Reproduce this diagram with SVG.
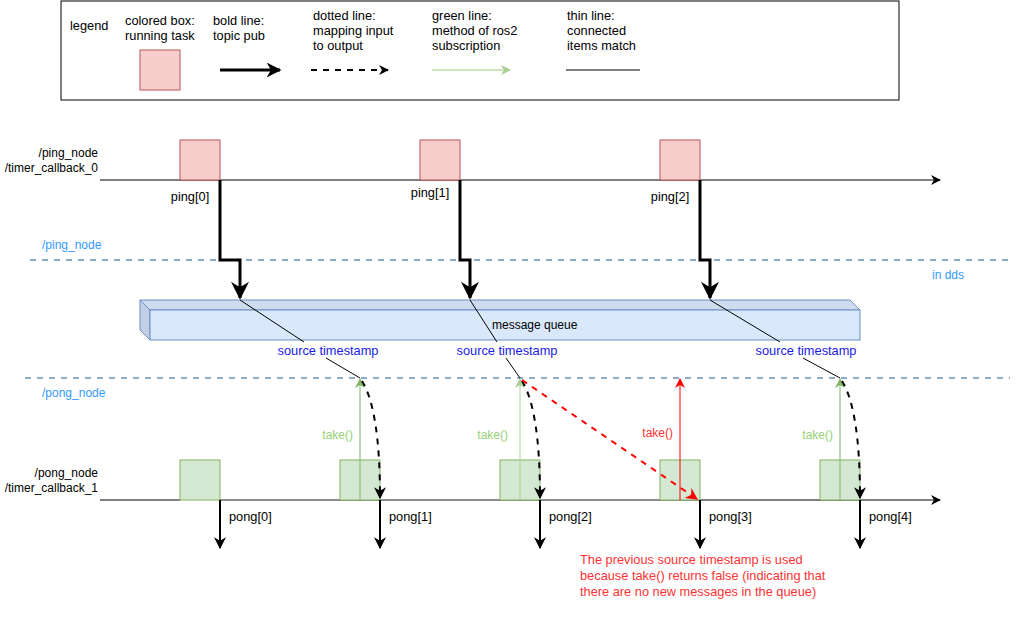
<svg xmlns="http://www.w3.org/2000/svg" width="1031" height="626" viewBox="0 0 1031 626">
<defs>
<style>
text{font-family:"Liberation Sans",Arial,sans-serif;font-size:12px;fill:#000}
.big{font-size:12.8px}
.r{text-anchor:end}
.m{text-anchor:middle}
.blue{fill:#3399ff}
.ts{fill:#1a1ae6;text-anchor:middle;font-size:12.8px}
.gt{fill:#97d077;text-anchor:end}
.red{fill:#ff3333}
.ping{fill:#f8cecc;stroke:#b85450;stroke-width:1}
.pong{fill:#d5e8d4;stroke:#82b366;stroke-width:1}
.bold{stroke:#000;stroke-width:3;fill:none}
.pub{stroke:#000;stroke-width:2;fill:none}
.sep{stroke:#6c8ebf;stroke-width:1.5;stroke-dasharray:6 6;fill:none}
.thin{stroke:#000;stroke-width:1;fill:none}
.map{stroke:#000;stroke-width:2;stroke-dasharray:6 6;fill:none}
</style>
<marker id="ab" viewBox="0 0 10 10" refX="9" refY="5" markerWidth="5" markerHeight="5" markerUnits="strokeWidth" orient="auto"><path d="M0,0 L10,5 L0,10 L3,5 Z" fill="#000"/></marker>
<marker id="ab2" viewBox="0 0 10 10" refX="9" refY="5" markerWidth="6" markerHeight="6" markerUnits="strokeWidth" orient="auto"><path d="M0,0 L10,5 L0,10 L3,5 Z" fill="#000"/></marker>
<marker id="at" viewBox="0 0 10 10" refX="9" refY="5" markerWidth="10" markerHeight="10" markerUnits="strokeWidth" orient="auto"><path d="M0,0 L10,5 L0,10 L3,5 Z" fill="#000"/></marker>
<marker id="ag" viewBox="0 0 10 10" refX="9" refY="5" markerWidth="10" markerHeight="10" markerUnits="strokeWidth" orient="auto"><path d="M0,0 L10,5 L0,10 L3,5 Z" fill="#82b366"/></marker>
<marker id="agl" viewBox="0 0 10 10" refX="9" refY="5" markerWidth="10" markerHeight="10" markerUnits="strokeWidth" orient="auto"><path d="M0,0 L10,5 L0,10 L3,5 Z" fill="#a9cf94"/></marker>
<marker id="ar" viewBox="0 0 10 10" refX="9" refY="5" markerWidth="10" markerHeight="10" markerUnits="strokeWidth" orient="auto"><path d="M0,0 L10,5 L0,10 L3,5 Z" fill="#ff0000"/></marker>
<marker id="ar2" viewBox="0 0 10 10" refX="9" refY="5" markerWidth="6" markerHeight="6" markerUnits="strokeWidth" orient="auto"><path d="M0,0 L10,5 L0,10 L3,5 Z" fill="#ff0000"/></marker>
</defs>
<rect width="1031" height="626" fill="#fff"/>

<g id="legend">
<rect x="61" y="1" width="838" height="99" fill="#fff" stroke="#000" stroke-width="1"/>
<text class="big" x="70" y="30">legend</text>
<text class="big" x="125" y="25">colored box:</text>
<text class="big" x="125" y="40">running task</text>
<rect class="ping" x="140" y="50" width="40" height="40"/>
<text class="big" x="213" y="25">bold line:</text>
<text class="big" x="213" y="40">topic pub</text>
<line x1="220" y1="70" x2="280" y2="70" class="bold" marker-end="url(#ab)"/>
<text class="big" x="313" y="20">dotted line:</text>
<text class="big" x="313" y="35">mapping input</text>
<text class="big" x="313" y="50">to output</text>
<line x1="311" y1="70" x2="388" y2="70" class="map" marker-end="url(#ab)" stroke-dasharray="6 5"/>
<text class="big" x="432" y="20">green line:</text>
<text class="big" x="432" y="35">method of ros2</text>
<text class="big" x="432" y="50">subscription</text>
<line x1="432" y1="70" x2="510" y2="70" stroke="#97d077" stroke-width="1" marker-end="url(#agl)"/>
<text class="big" x="567" y="20">thin line:</text>
<text class="big" x="567" y="35">connected</text>
<text class="big" x="567" y="50">items match</text>
<line x1="566" y1="70" x2="640" y2="70" stroke="#808080" stroke-width="2"/>
</g>

<g id="labels">
<text class="r" x="98" y="157">/ping_node</text>
<text class="r" x="98" y="172">/timer_callback_0</text>
<text class="r" x="98" y="477">/pong_node</text>
<text class="r" x="98" y="492">/timer_callback_1</text>
<text class="blue" x="42" y="249">/ping_node</text>
<text class="blue" x="932" y="279">in dds</text>
<text class="blue" x="42" y="397">/pong_node</text>
</g>

<g id="separators">
<line class="sep" x1="30" y1="260" x2="1010" y2="260"/>
<line class="sep" x1="25" y1="378" x2="1010" y2="378"/>
</g>

<g id="ping-timeline">
<line x1="100" y1="180" x2="940" y2="180" stroke="#000" stroke-width="1" marker-end="url(#at)"/>
</g>

<g id="ping0"><rect class="ping" x="180" y="140" width="40" height="40"/><text class="m big" x="190" y="201">ping[0]</text></g>
<g id="ping1"><rect class="ping" x="420" y="140" width="40" height="40"/><text class="m big" x="430" y="197">ping[1]</text></g>
<g id="ping2"><rect class="ping" x="660" y="140" width="40" height="40"/><text class="m big" x="670" y="201">ping[2]</text></g>

<g id="queue">
<path d="M140,300 L850,300 L860,310 L150,310 Z" fill="#cfdcf0" stroke="#6c8ebf" stroke-width="1"/>
<path d="M140,300 L150,310 L150,340 L140,330 Z" fill="#c2cfe6" stroke="#6c8ebf" stroke-width="1"/>
<rect x="150" y="310" width="710" height="30" fill="#dae8fc" stroke="#6c8ebf" stroke-width="1"/>
<text x="492" y="329">message queue</text>
</g>

<g id="pong-timeline">
<line x1="100" y1="500" x2="180" y2="500" stroke="#000" stroke-width="1"/>
<line x1="220" y1="500" x2="700" y2="500" stroke="#666" stroke-width="1.5"/>
<line x1="700" y1="500" x2="940" y2="500" stroke="#000" stroke-width="1" marker-end="url(#at)"/>
</g>

<g id="pong0"><rect class="pong" x="180" y="460" width="40" height="40"/><text class="big" x="229" y="521">pong[0]</text></g>
<g id="pong1"><rect class="pong" x="340" y="460" width="40" height="40"/><text class="big" x="389" y="521">pong[1]</text></g>
<g id="pong2"><rect class="pong" x="500" y="460" width="40" height="40"/><text class="big" x="549" y="521">pong[2]</text></g>
<g id="pong3"><rect class="pong" x="660" y="460" width="40" height="40"/><text class="big" x="709" y="521">pong[3]</text></g>
<g id="pong4"><rect class="pong" x="820" y="460" width="40" height="40"/><text class="big" x="869" y="521">pong[4]</text></g>

<g id="timestamps">
<text class="ts" x="328" y="355">source timestamp</text>
<text class="ts" x="507" y="355">source timestamp</text>
<text class="ts" x="806" y="355">source timestamp</text>
</g>

<g id="connectors">
<path class="bold" d="M220,180 V260 H240 V298" marker-end="url(#ab2)"/>
<path class="bold" d="M460,180 V260 H470 V298" marker-end="url(#ab2)"/>
<path class="bold" d="M700,180 V260 H710 V298" marker-end="url(#ab2)"/>

<line class="thin" x1="240" y1="300" x2="304" y2="342"/>
<line class="thin" x1="326" y1="358" x2="360" y2="378"/>
<line class="thin" x1="470" y1="300" x2="497" y2="342"/>
<line class="thin" x1="506" y1="358" x2="520" y2="378"/>
<line class="thin" x1="710" y1="300" x2="780" y2="342"/>
<line class="thin" x1="803" y1="358" x2="840" y2="378"/>

<line x1="360" y1="500" x2="360" y2="379" stroke="#82b366" stroke-width="1" marker-end="url(#ag)"/>
<line x1="520" y1="500" x2="520" y2="379" stroke="#a9cf94" stroke-width="1" marker-end="url(#agl)"/>
<line x1="840" y1="500" x2="840" y2="379" stroke="#82b366" stroke-width="1" marker-end="url(#ag)"/>
<line x1="680" y1="500" x2="680" y2="379" stroke="#ff0000" stroke-width="1" marker-end="url(#ar)"/>

<path class="map" d="M362,381 Q380,410 380,498" marker-end="url(#ab2)"/>
<path class="map" d="M522,381 Q540,410 540,498" marker-end="url(#ab2)"/>
<path class="map" d="M842,381 Q860,410 860,498" marker-end="url(#ab2)"/>
<line x1="522" y1="380" x2="697" y2="499" stroke="#ff0000" stroke-width="2" stroke-dasharray="6 6" marker-end="url(#ar2)"/>

<line class="pub" x1="220" y1="500" x2="220" y2="548" marker-end="url(#ab2)"/>
<line class="pub" x1="380" y1="500" x2="380" y2="548" marker-end="url(#ab2)"/>
<line class="pub" x1="540" y1="500" x2="540" y2="548" marker-end="url(#ab2)"/>
<line class="pub" x1="700" y1="500" x2="700" y2="548" marker-end="url(#ab2)"/>
<line class="pub" x1="860" y1="500" x2="860" y2="548" marker-end="url(#ab2)"/>
</g>

<g id="take-labels">
<text class="gt" x="353" y="439">take()</text>
<text class="gt" x="508" y="439">take()</text>
<text class="gt" x="833" y="439">take()</text>
<text x="673" y="437" class="red" text-anchor="end">take()</text>
</g>

<g id="note">
<text class="red big" x="580" y="564">The previous source timestamp is used</text>
<text class="red big" x="580" y="580">because take() returns false (indicating that</text>
<text class="red big" x="580" y="596">there are no new messages in the queue)</text>
</g>
</svg>
